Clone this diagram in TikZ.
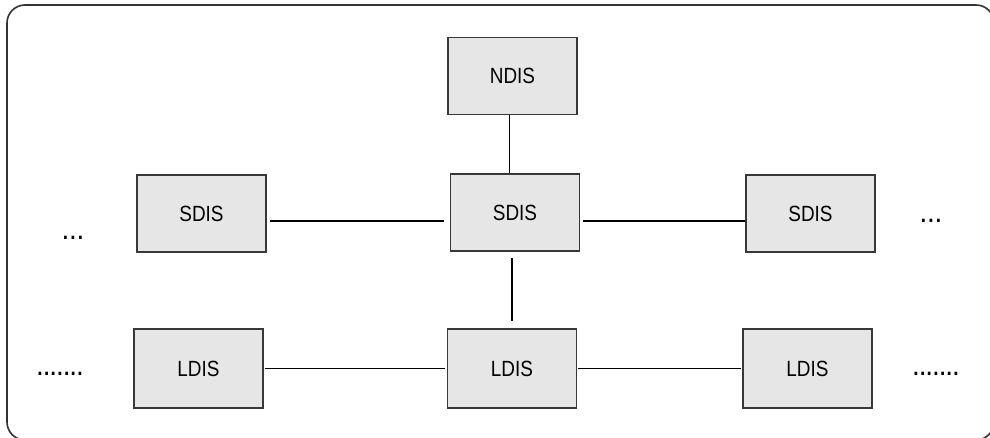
\documentclass[tikz,border=0pt]{standalone}
\usepackage{fontspec}
\setmainfont{Liberation Sans}[FakeStretch=0.86]
\definecolor{boxfill}{HTML}{E6E6E6}
\definecolor{boxline}{HTML}{383838}
\definecolor{frameline}{HTML}{333333}
% a row of #1 full stops, #2 extra space between them
\newcommand{\dotrow}[2]{\foreach \k in {1,...,#1}{\ifnum\k>1\kern#2\fi.}}
\tikzset{
  disbox/.style={draw=boxline, fill=boxfill, line width=1.5pt,
    minimum width=129pt, minimum height=77pt, inner sep=0pt,
    font=\fontsize{22}{26}\selectfont},
  link/.style={draw=black, line width=1.4pt},
  ellip/.style={inner sep=0pt, anchor=base, font=\fontsize{22}{26}\selectfont\bfseries}
}
\begin{document}
\begin{tikzpicture}[x=1pt, y=-1pt]
  \useasboundingbox (0,0) rectangle (990,437);
  \clip (0,0) rectangle (990,437);
  % outer frame, running past the right and bottom edges
  \draw[frameline, line width=1.6pt, rounded corners=18pt] (7,5) rectangle (994,440);

  % national level
  \node[disbox] (ndis) at (512.5,76) {NDIS};
  % state level
  \node[disbox] (sdisL) at (201.5,213.5) {SDIS};
  \node[disbox] (sdisC) at (515,212.5) {SDIS};
  \node[disbox] (sdisR) at (810.5,213.5) {SDIS};
  % local level
  \node[disbox, minimum height=79pt] (ldisL) at (198.5,368.5) {LDIS};
  \node[disbox, minimum height=79pt] (ldisC) at (512,368.5) {LDIS};
  \node[disbox, minimum height=79pt] (ldisR) at (807.5,368.5) {LDIS};

  % continuation marks
  \node[ellip] (moreSL) at (73,239) {\dotrow{3}{2.2pt}};
  \node[ellip] (moreSR) at (931,222) {\dotrow{3}{2.2pt}};
  \node[ellip] (moreLL) at (60,375) {\dotrow{7}{1.4pt}};
  \node[ellip] (moreLR) at (936,375) {\dotrow{7}{1.4pt}};

  % links
  \draw[link] ([xshift=-3pt]ndis.south) -- ([xshift=-3pt]ndis.south |- sdisC.north);
  \draw[link, shorten <=6pt, shorten >=7pt] ([xshift=-3pt]sdisC.south) -- ([xshift=-3pt]sdisC.south |- ldisC.north);
  \draw[link, shorten <=3pt, shorten >=6pt] ([yshift=-7.5pt]sdisL.east) -- ([yshift=-7.5pt]sdisL.east -| sdisC.west);
  \draw[link, shorten <=3pt] ([yshift=-8.5pt]sdisC.west -| sdisC.east) -- ([yshift=-8.5pt]sdisC.west -| sdisR.west);
  \draw[link, shorten <=1pt, shorten >=2pt] (ldisL.east) -- (ldisC.west);
  \draw[link, shorten <=1pt, shorten >=1pt] (ldisC.east) -- (ldisR.west);
\end{tikzpicture}
\end{document}
